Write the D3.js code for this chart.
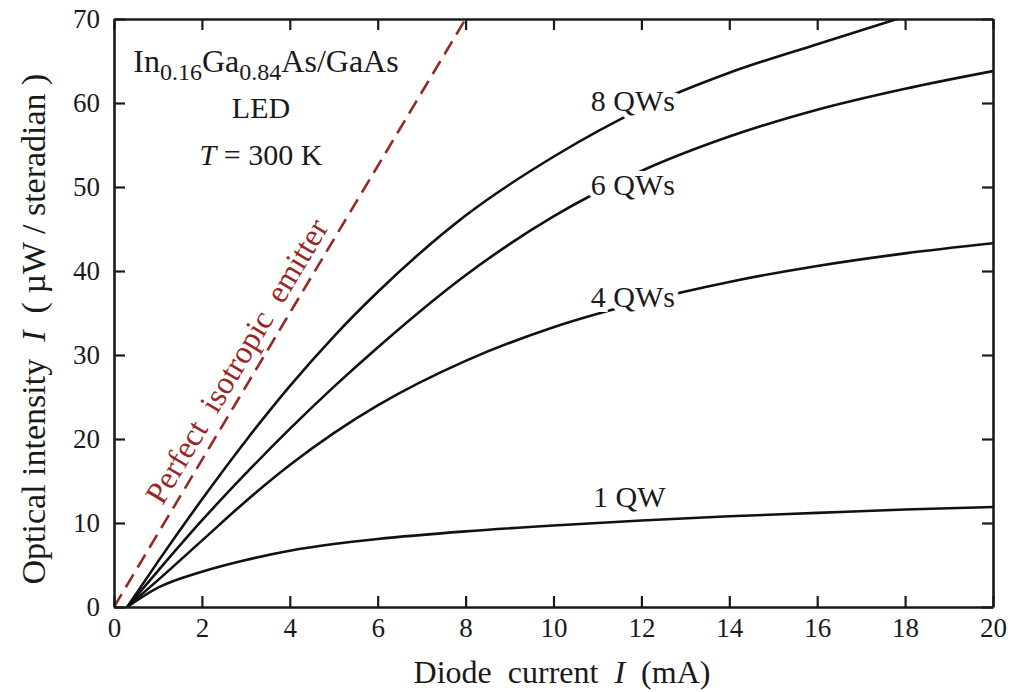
<!DOCTYPE html>
<html>
  <head>
    <meta charset="utf-8" />
    <title>LED optical intensity vs diode current</title>
    <script src="https://d3js.org/d3.v7.min.js"></script>
    <style>
      body { margin: 0; background: #fff; }
      text { font-family: "Liberation Serif", "Times New Roman", serif; fill: #1a1a1a; }
    </style>
  </head>
  <body>
    <svg id="chart"></svg>
    <script>
      // data
      var currentMA = [0.3, 1, 2, 3, 4, 5, 6, 8, 10, 12, 14, 16, 18, 20];
      var qw1 = [0, 2.3, 4.2, 5.6, 6.7, 7.5, 8.1, 9.0, 9.7, 10.3, 10.8, 11.2, 11.6, 11.9];
      var qw4 = [0, 3.2, 7.9, 12.6, 16.9, 20.7, 24.0, 29.3, 33.3, 36.3, 38.7, 40.6, 42.1, 43.3];
      var qw6 = [0, 4.3, 10.3, 15.9, 21.2, 26.2, 30.9, 39.5, 46.5, 51.9, 56.0, 59.2, 61.7, 63.8];
      var qw8 = [0, 5.4, 12.8, 19.8, 26.3, 32.2, 37.5, 46.6, 53.6, 59.3, 63.6, 67.0, 70.3];
      var emitterX = [0, 8];
      var emitterY = [0, 70];

      var curveNames = ["1 QW", "4 QWs", "6 QWs", "8 QWs"];
      var curveValues = [qw1, qw4, qw6, qw8];
      // label anchor (start of text, baseline) in data units
      var labelX = [10.9, 10.85, 10.85, 10.85];
      var labelY = [11.9, 35.7, 49.0, 59.0];

      var xTicks = [0, 2, 4, 6, 8, 10, 12, 14, 16, 18, 20];
      var yTicks = [0, 10, 20, 30, 40, 50, 60, 70];

      var width = 1013, height = 692;
      var margin = { top: 19, right: 20, bottom: 85, left: 114 };

      var svg = d3.select("#chart").attr("width", width).attr("height", height);

      var x = d3.scaleLinear().domain([0, 20]).range([margin.left, width - margin.right]);
      var y = d3.scaleLinear().domain([0, 70]).range([height - margin.bottom, margin.top]);

      svg.append("defs").append("clipPath").attr("id", "plot")
        .append("rect")
        .attr("x", x(0)).attr("y", y(70))
        .attr("width", x(20) - x(0)).attr("height", y(0) - y(70));

      var line = d3.line()
        .x(function (d) { return x(d[0]); })
        .y(function (d) { return y(d[1]); })
        .curve(d3.curveMonotoneX);

      var plot = svg.append("g").attr("clip-path", "url(#plot)");

      // perfect isotropic emitter
      plot.append("path")
        .datum(emitterX.map(function (v, i) { return [v, emitterY[i]]; }))
        .attr("d", line)
        .attr("fill", "none")
        .attr("stroke", "#962828")
        .attr("stroke-width", 2.6)
        .attr("stroke-dasharray", "15,8");

      // QW curves
      curveValues.forEach(function (vals) {
        plot.append("path")
          .datum(vals.map(function (v, i) { return [currentMA[i], v]; }))
          .attr("d", line)
          .attr("fill", "none")
          .attr("stroke", "#111")
          .attr("stroke-width", 2.6);
      });

      // curve labels, white halo breaks the lines
      curveNames.forEach(function (name, i) {
        svg.append("text")
          .attr("x", x(labelX[i]))
          .attr("y", y(labelY[i]))
          .attr("font-size", 30)
          .attr("stroke", "#fff")
          .attr("stroke-width", 10)
          .attr("paint-order", "stroke")
          .text(name);
      });

      // emitter label, rotated along the dashed line
      var angle = Math.atan2(y(emitterY[1]) - y(emitterY[0]), x(emitterX[1]) - x(emitterX[0])) * 180 / Math.PI;
      svg.append("text")
        .attr("transform", "translate(" + x(3.0) + "," + y(28.6) + ") rotate(" + angle + ")")
        .attr("text-anchor", "middle")
        .attr("font-size", 32)
        .style("fill", "#962828")
        .attr("xml:space", "preserve")
        .text("Perfect  isotropic  emitter");

      // axes, ticks inward on all four sides
      function styleAxis(g) {
        g.attr("font-family", null);
        g.select(".domain").attr("stroke", "#1a1a1a").attr("stroke-width", 2.6);
        g.selectAll(".tick line").attr("stroke", "#1a1a1a").attr("stroke-width", 2.2);
        g.selectAll(".tick text")
          .attr("font-size", 27)
          .style("font-family", "'Liberation Serif', serif")
          .attr("fill", "#1a1a1a");
      }

      svg.append("g")
        .attr("transform", "translate(0," + y(0) + ")")
        .call(d3.axisBottom(x).tickValues(xTicks).tickSizeInner(-11).tickSizeOuter(0).tickPadding(11))
        .call(styleAxis);

      svg.append("g")
        .attr("transform", "translate(" + x(0) + ",0)")
        .call(d3.axisLeft(y).tickValues(yTicks).tickSizeInner(-11).tickSizeOuter(0).tickPadding(14))
        .call(styleAxis);

      svg.append("g")
        .attr("transform", "translate(0," + y(70) + ")")
        .call(d3.axisTop(x).tickValues(xTicks).tickSizeInner(-11).tickSizeOuter(0).tickFormat(""))
        .call(styleAxis);

      svg.append("g")
        .attr("transform", "translate(" + x(20) + ",0)")
        .call(d3.axisRight(y).tickValues(yTicks).tickSizeInner(-11).tickSizeOuter(0).tickFormat(""))
        .call(styleAxis);

      // inset title
      var title = svg.append("text")
        .attr("x", 266).attr("y", 72)
        .attr("text-anchor", "middle")
        .attr("font-size", 32);
      title.append("tspan").text("In");
      title.append("tspan").attr("font-size", 24).attr("dy", 8).text("0.16");
      title.append("tspan").attr("dy", -8).text("Ga");
      title.append("tspan").attr("font-size", 24).attr("dy", 8).text("0.84");
      title.append("tspan").attr("dy", -8).text("As/GaAs");

      svg.append("text")
        .attr("x", 261).attr("y", 118)
        .attr("text-anchor", "middle")
        .attr("font-size", 30)
        .text("LED");

      var tLine = svg.append("text")
        .attr("x", 261).attr("y", 165)
        .attr("text-anchor", "middle")
        .attr("font-size", 30);
      tLine.append("tspan").attr("font-style", "italic").text("T");
      tLine.append("tspan").text(" = 300 K");

      // axis titles
      var xLabel = svg.append("text")
        .attr("x", 562).attr("y", 683)
        .attr("text-anchor", "middle")
        .attr("font-size", 32)
        .attr("xml:space", "preserve");
      xLabel.append("tspan").text("Diode  current  ");
      xLabel.append("tspan").attr("font-style", "italic").text("I");
      xLabel.append("tspan").text("  (mA)");

      var yLabel = svg.append("text")
        .attr("transform", "translate(45,329) rotate(-90)")
        .attr("text-anchor", "middle")
        .attr("font-size", 34)
        .attr("xml:space", "preserve");
      yLabel.append("tspan").text("Optical intensity  ");
      yLabel.append("tspan").attr("font-style", "italic").text("I");
      yLabel.append("tspan").text("  ( \u00b5W / steradian )");
    </script>
  </body>
</html>
